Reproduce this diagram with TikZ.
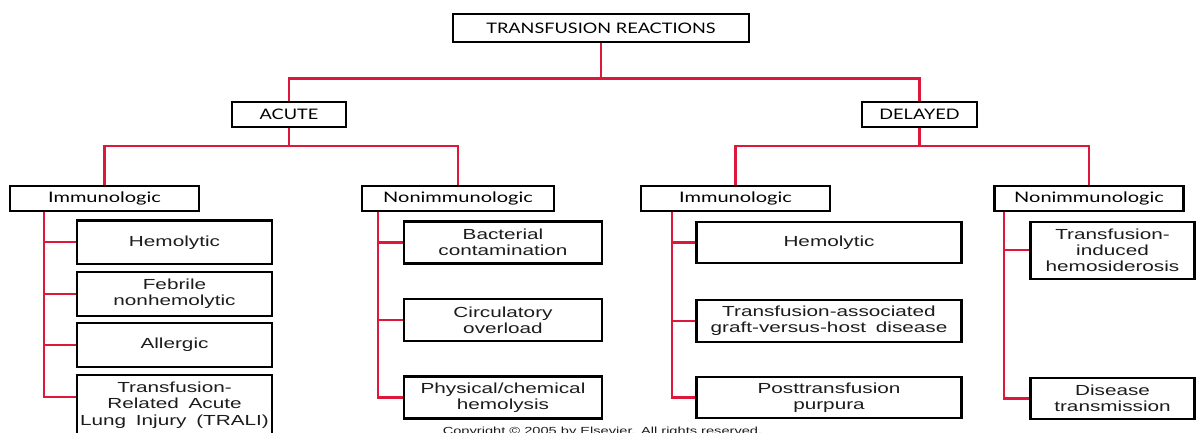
\documentclass[tikz,border=0pt]{standalone}
\usepackage{fontspec}
\usetikzlibrary{backgrounds}
\newfontfamily\hfont[FakeStretch=1.38]{Lato}
\newfontfamily\capfont[FakeStretch=1.25]{Lato}
\newfontfamily\cfont[FakeStretch=1.42]{Liberation Sans}
\definecolor{linkred}{RGB}{222,24,58}
\definecolor{txt}{RGB}{28,28,28}
\tikzset{
  hbox/.style={draw=black, line width=2.5pt, inner sep=0pt, text=black,
    font=\hfont\fontsize{14.5}{16}\selectfont},
  capbox/.style={hbox, font=\capfont\fontsize{14.5}{16}\selectfont},
  cbox/.style={draw=black, line width=2.3pt, inner sep=0pt, align=center, text=txt,
    font=\cfont\fontsize{14.6}{16.4}\selectfont},
  link/.style={draw=linkred, line width=2.2pt},
  copy/.style={inner sep=0pt, text=txt, font=\cfont\fontsize{10.3}{12}\selectfont}
}
\begin{document}
\begin{tikzpicture}[x=1pt,y=-1pt]
\useasboundingbox (0,0) rectangle (1196,433);
\clip (0,0) rectangle (1196,433);

% level 0-2
\node[capbox, minimum width=296, minimum height=28] (top) at (601,28) {TRANSFUSION REACTIONS};
\node[capbox, minimum width=114, minimum height=25] (acute) at (289,114.5) {ACUTE};
\node[capbox, minimum width=115, minimum height=25] (delayed) at (919.5,114.5) {DELAYED};
\node[hbox, minimum width=189, minimum height=25] (aimm) at (104.5,198.5) {Immunologic};
\node[hbox, minimum width=192, minimum height=25] (anon) at (458,198.5) {Nonimmunologic};
\node[hbox, minimum width=189, minimum height=25] (dimm) at (735.5,198.5) {Immunologic};
\node[hbox, minimum width=189, minimum height=25] (dnon) at (1089,198.5) {Nonimmunologic};

% acute immunologic
\node[cbox, text width=195, minimum height=43.5] (ahem) at (174.5,242.3) {Hemolytic};
\node[cbox, text width=195, minimum height=44] (afeb) at (174.5,293.7) {Febrile\\nonhemolytic};
\node[cbox, text width=195, minimum height=43.5] (aall) at (174.5,345) {Allergic};
\node[cbox, text width=195, minimum height=60] (atrali) at (174.5,405) {Transfusion-\\Related\ \ Acute\\Lung\ \ Injury\ \ (TRALI)};

% acute nonimmunologic
\node[cbox, text width=198, minimum height=42] (abac) at (503,242.5) {Bacterial\\contamination};
\node[cbox, text width=198, minimum height=42] (acirc) at (503,320) {Circulatory\\overload};
\node[cbox, text width=198, minimum height=42] (aphys) at (503,397.5) {Physical/chemical\\hemolysis};

% delayed immunologic
\node[cbox, text width=265, minimum height=41] (dhem) at (829,242.5) {Hemolytic};
\node[cbox, text width=265, minimum height=42] (dgvhd) at (829,321) {Transfusion-associated\\graft-versus-host\ \ disease};
\node[cbox, text width=265, minimum height=41] (dptp) at (829,397.5) {Posttransfusion\\purpura};

% delayed nonimmunologic
\node[cbox, text width=164, minimum height=57] (dtih) at (1112.5,250.3) {Transfusion-\\induced\\hemosiderosis};
\node[cbox, text width=164, minimum height=41] (ddis) at (1112.5,398.5) {Disease\\transmission};

\node[copy, anchor=base] (cr) at (602.5,434) {Copyright \textcopyright{} 2005 by Elsevier. All rights reserved.};

\begin{pgfonlayer}{background}
\fill[white] (0,0) rectangle (1196,433);
% connectors, upper levels
\coordinate (j0) at (601,78.5);
\draw[link] (top.south) -- (j0);
\draw[link] (acute.north) |- (j0) -| (delayed.north);
\coordinate (j1) at (289,146);
\draw[link] (acute.south) -- (j1);
\draw[link] (aimm.north) |- (j1) -| (anon.north);
\coordinate (j2) at (919.5,146);
\draw[link] (delayed.south) -- (j2);
\draw[link] (dimm.north) |- (j2) -| (dnon.north);

% trunks
\coordinate (t1) at ([xshift=35pt]aimm.south west);
\draw[link] (t1) |- ([yshift=8pt]atrali.west);
\foreach \n in {ahem,afeb,aall} \draw[link] (\n.west) -- (\n.west -| t1);

\coordinate (t2) at ([xshift=17pt]anon.south west);
\draw[link] (t2) |- (aphys.west);
\foreach \n in {abac,acirc} \draw[link] (\n.west) -- (\n.west -| t2);

\coordinate (t3) at ([xshift=32pt]dimm.south west);
\draw[link] (t3) |- (dptp.west);
\foreach \n in {dhem,dgvhd} \draw[link] (\n.west) -- (\n.west -| t3);

\coordinate (t4) at ([xshift=10.5pt]dnon.south west);
\draw[link] (t4) |- (ddis.west);
\draw[link] (dtih.west) -- (dtih.west -| t4);
\end{pgfonlayer}
\end{tikzpicture}
\end{document}
